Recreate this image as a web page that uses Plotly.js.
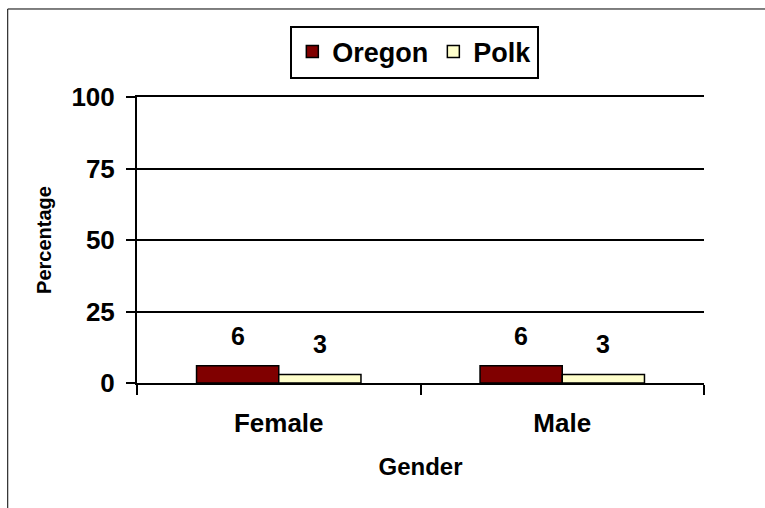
<!DOCTYPE html>
<html>
<head>
<meta charset="utf-8">
<script src="https://cdn.plot.ly/plotly-3.0.1.min.js"></script>
<style>
  html, body { margin: 0; padding: 0; background: #fff; }
  #chart { width: 765px; height: 508px; }
</style>
</head>
<body>
<div id="chart"></div>
<script>
// ---- data ----
const categories = ["Female", "Male"];
const seriesNames = ["Oregon", "Polk"];
const oregonValues = [6, 6];
const polkValues = [3, 3];
const yTickValues = [0, 25, 50, 75, 100];
const yAxisTitle = "Percentage";
const xAxisTitle = "Gender";

const FONT = "Liberation Sans, Arial, sans-serif";
const colors = ["#800000", "#FFFFCC"];
const seriesValues = [oregonValues, polkValues];

const traces = seriesNames.map((name, i) => ({
  type: "bar",
  name: name,
  x: categories,
  y: seriesValues[i],
  marker: { color: colors[i], line: { color: "#000", width: 1.5 } },
  hoverinfo: "x+y+name"
}));

// value labels above bars
const barHalf = 41;
const annotations = [];
seriesValues.forEach((vals, i) => {
  vals.forEach((v, j) => {
    annotations.push({
      x: categories[j], y: v, xref: "x", yref: "y",
      text: String(v), showarrow: false,
      xshift: i === 0 ? -barHalf : barHalf,
      yanchor: "bottom", yshift: 14,
      font: { family: FONT, size: 25, color: "#000", weight: "bold" }
    });
  });
});

const layout = {
  width: 765, height: 508,
  margin: { l: 137, r: 61, t: 97, b: 125 },
  paper_bgcolor: "#fff", plot_bgcolor: "#fff",
  barmode: "group", bargap: 0.42, bargroupgap: 0,
  font: { family: FONT, color: "#000", weight: "bold" },
  showlegend: true,
  legend: {
    orientation: "h", x: 0.49, xanchor: "center", y: 1.25, yanchor: "top",
    bordercolor: "#000", borderwidth: 2, bgcolor: "#fff",
    font: { family: FONT, size: 27, weight: "bold" },
    itemwidth: 30, tracegroupgap: 0
  },
  xaxis: {
    type: "category",
    showline: true, mirror: true, linecolor: "#000", linewidth: 2,
    ticks: "outside", tickson: "boundaries", ticklen: 10, tickwidth: 2, tickcolor: "#000",
    tickfont: { family: FONT, size: 26, weight: "bold" },
    ticklabelstandoff: 16,
    showgrid: false, zeroline: false,
    title: { text: xAxisTitle, font: { family: FONT, size: 24, weight: "bold" }, standoff: 21 }
  },
  yaxis: {
    range: [0, 100], tickvals: yTickValues, ticktext: yTickValues.map(String),
    showline: true, linecolor: "#000", linewidth: 2,
    ticks: "outside", ticklen: 9, tickwidth: 2, tickcolor: "#000",
    tickfont: { family: FONT, size: 26, weight: "bold" },
    ticklabelstandoff: 6,
    showgrid: true, gridcolor: "#000", gridwidth: 2, zeroline: false,
    title: { text: yAxisTitle, font: { family: FONT, size: 20, weight: "bold" }, standoff: 14 }
  },
  annotations: annotations,
  shapes: [
    { type: "line", xref: "paper", yref: "paper", x0: -0.228, x1: 1.2, y0: 1.3077, y1: 1.3077, line: { color: "#000", width: 1 } },
    { type: "line", xref: "paper", yref: "paper", x0: -0.228, x1: -0.228, y0: 1.3077, y1: -0.5, line: { color: "#000", width: 1 } }
  ]
};

Plotly.newPlot("chart", traces, layout, { displayModeBar: false, staticPlot: true });
</script>
</body>
</html>
